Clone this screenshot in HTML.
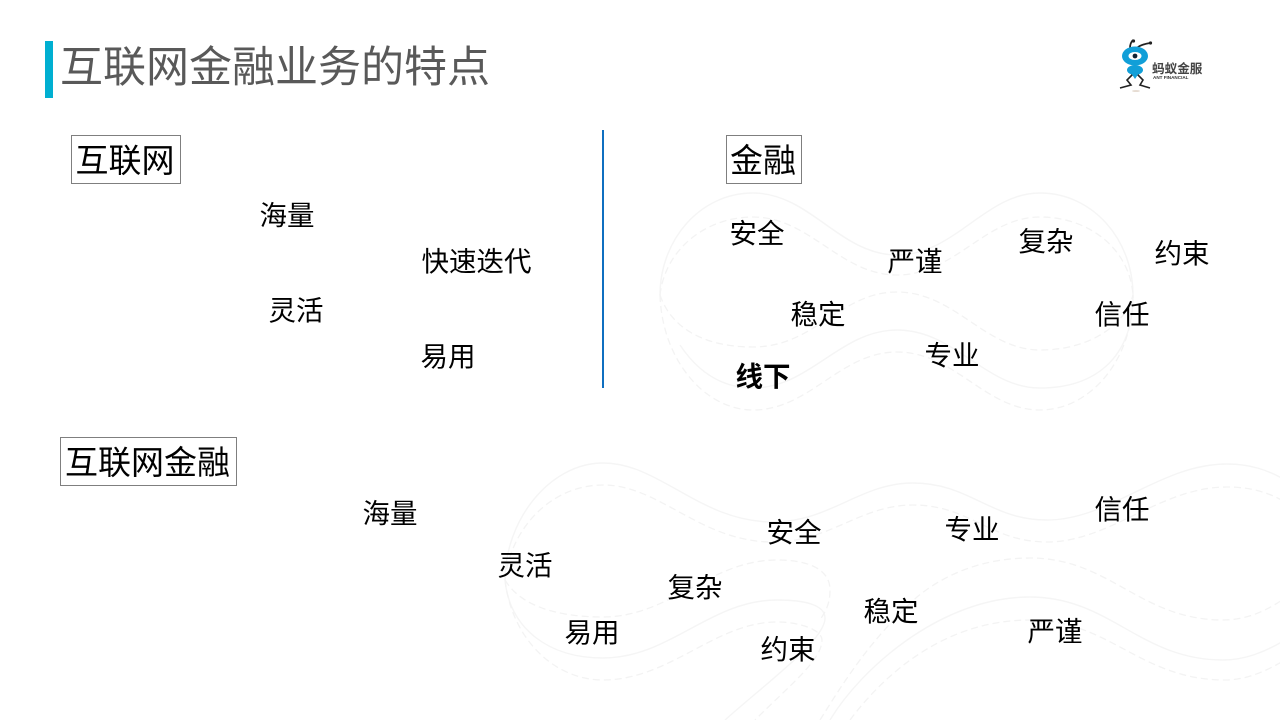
<!DOCTYPE html>
<html lang="zh-CN">
<head>
<meta charset="utf-8">
<title>互联网金融业务的特点</title>
<style>
html,body{margin:0;padding:0;background:#fff}
#s{position:relative;width:1280px;height:720px;overflow:hidden;background:#fff;font-family:"Liberation Sans","Noto Sans CJK SC",sans-serif;color:#000}
#s svg.bg{position:absolute;left:0;top:0}
.t{position:absolute;font-size:27.5px;line-height:28px;height:28px;white-space:nowrap;transform:translate(-0.5px,1px)}
.b{position:absolute;border:1px solid #7f7f7f;box-sizing:border-box;height:49px;font-size:33px;line-height:49px;text-align:center;white-space:nowrap;background:#fff;text-indent:-2px}
#bar{position:absolute;left:45px;top:41px;width:8px;height:57px;background:#00afd1}
#title{position:absolute;left:60px;top:40px;font-size:43px;line-height:56px;color:#595959;white-space:nowrap}
#vl{position:absolute;left:602px;top:130px;width:2px;height:258px;background:#0f6fc0}
</style>
</head>
<body>
<div id="s">
<svg class="bg" width="1280" height="720" viewBox="0 0 1280 720" fill="none">
  <g stroke="#f5f5f5" stroke-width="1.4">
    <path d="M660,295C660,240 700,193 753,193C810,193 840,255 897,255C955,255 985,193 1040,193C1093,193 1133,240 1133,295C1133,360 1093,388 1040,388C985,388 955,330 897,330C840,330 810,388 753,388C725,388 700,375 680,345"/>
    <path d="M603,463C660,463 700,522 773,522C830,522 860,483 913,483C970,483 990,520 1047,520C1110,520 1160,464 1227,464C1250,464 1268,470 1285,480"/>
    <path d="M505,580C505,520 550,463 603,463"/>
    <path d="M505,580C510,630 550,658 603,658C670,658 710,600 777,600C805,600 825,605 825,618C825,640 770,680 725,720"/>
    <path d="M830,720C860,670 940,597 1030,597C1110,597 1140,660 1223,660C1245,660 1265,652 1285,640"/>
  </g>
  <g stroke="#f3f3f3" stroke-width="1.3" stroke-dasharray="7 4">
    <path d="M660,295C665,250 705,217 753,217C810,217 840,275 897,275C955,275 985,217 1040,217C1090,217 1130,250 1133,295"/>
    <path d="M660,295C670,325 700,347 753,347C815,347 840,292 897,292C955,292 985,350 1040,350C1090,350 1125,325 1133,295"/>
    <path d="M660,295C662,360 705,410 753,410C810,410 840,352 897,352C955,352 985,410 1040,410C1090,410 1133,360 1133,295"/>
    <path d="M505,580C510,530 550,485 603,485C660,485 700,542 773,542C830,542 860,505 913,505C970,505 990,542 1047,542C1110,542 1160,487 1227,487C1250,487 1268,492 1285,502"/>
    <path d="M505,580C520,605 555,617 603,617C670,617 710,560 777,560C810,560 830,570 830,590C830,605 825,612 820,620"/>
    <path d="M505,580C512,640 555,680 603,680C670,680 715,622 777,622C800,622 822,630 822,640C822,660 790,685 755,720"/>
    <path d="M820,720C845,680 870,640 917,597C950,570 990,558 1030,558C1110,558 1140,620 1223,620C1245,620 1265,612 1285,598"/>
    <path d="M850,720C880,680 940,620 1030,620C1110,620 1140,680 1225,680C1245,680 1265,672 1285,660"/>
  </g>
  <!-- logo -->
  <g>
    <path d="M1130,48C1130,44 1131,42 1133,40" stroke="#222" stroke-width="1.8"/>
    <path d="M1137,48C1139,46 1144,44 1150,43" stroke="#222" stroke-width="1.8"/>
    <circle cx="1133.5" cy="41" r="1.6" fill="#222"/>
    <circle cx="1150.5" cy="43" r="1.6" fill="#222"/>
    <ellipse cx="1135" cy="56" rx="13" ry="9.5" fill="#119fd8"/>
    <ellipse cx="1135" cy="56" rx="6.5" ry="4" fill="#fff"/>
    <circle cx="1135" cy="56" r="2.4" fill="#123"/>
    <ellipse cx="1135" cy="70" rx="8" ry="5" fill="#119fd8"/>
    <path d="M1133,74L1127,80L1131,85L1120,88M1137,74L1143,80L1140,85L1150,88" stroke="#222" stroke-width="1.6"/>
    <path d="M1131,73L1139,73L1135,79Z" fill="#119fd8"/>
    <ellipse cx="1136" cy="91" rx="4" ry="1" fill="#e6dcd2"/>
  </g>
  <text x="1152" y="73" font-family="'Liberation Sans','Noto Sans CJK SC',sans-serif" font-size="12.6" font-weight="bold" fill="#444">蚂蚁金服</text>
  <text x="1153" y="79" font-family="'Liberation Sans',sans-serif" font-size="4.6" font-weight="bold" fill="#333">ANT FINANCIAL</text>
</svg>

<div id="bar"></div>
<div id="title">互联网金融业务的特点</div>
<div id="vl"></div>

<div class="b" style="left:71px;top:135px;width:110px">互联网</div>
<div class="b" style="left:726px;top:135px;width:76px">金融</div>
<div class="b" style="left:60px;top:437px;width:177px">互联网金融</div>

<div class="t" style="left:260px;top:201px">海量</div>
<div class="t" style="left:422px;top:247px">快速迭代</div>
<div class="t" style="left:269px;top:296px">灵活</div>
<div class="t" style="left:421px;top:342px">易用</div>

<div class="t" style="left:730px;top:219px">安全</div>
<div class="t" style="left:888px;top:247px">严谨</div>
<div class="t" style="left:1019px;top:227px">复杂</div>
<div class="t" style="left:1155px;top:239px">约束</div>
<div class="t" style="left:791px;top:300px">稳定</div>
<div class="t" style="left:1095px;top:300px">信任</div>
<div class="t" style="left:925px;top:341px">专业</div>
<div class="t" style="left:736px;top:362px;font-weight:bold">线下</div>

<div class="t" style="left:363px;top:499px">海量</div>
<div class="t" style="left:767px;top:518px">安全</div>
<div class="t" style="left:945px;top:515px">专业</div>
<div class="t" style="left:1095px;top:495px">信任</div>
<div class="t" style="left:498px;top:551px">灵活</div>
<div class="t" style="left:668px;top:573px">复杂</div>
<div class="t" style="left:864px;top:597px">稳定</div>
<div class="t" style="left:1028px;top:617px">严谨</div>
<div class="t" style="left:565px;top:618px">易用</div>
<div class="t" style="left:761px;top:635px">约束</div>
</div>
</body>
</html>
